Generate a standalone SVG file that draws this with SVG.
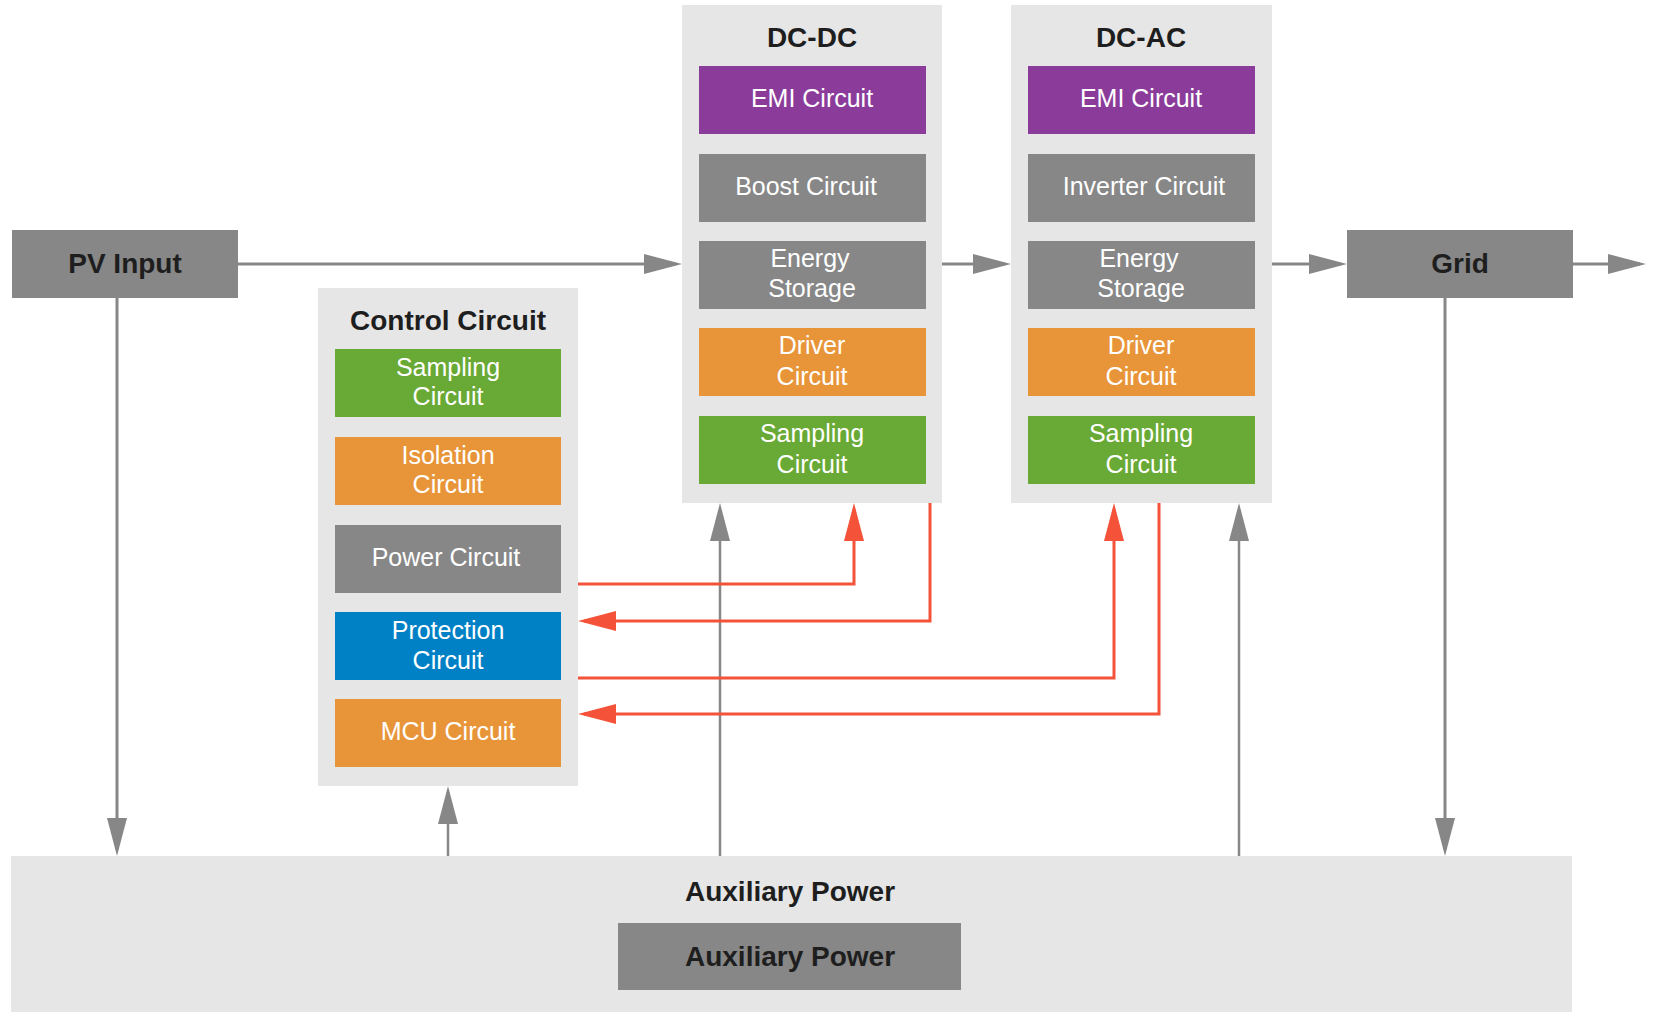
<svg xmlns="http://www.w3.org/2000/svg" width="1654" height="1012" viewBox="0 0 1654 1012">
<defs>
<style>
.cont{fill:#e6e6e6}
.gray{fill:#878787}
.purple{fill:#8b3c9b}
.orange{fill:#e8953a}
.green{fill:#69a935}
.blue{fill:#0080c5}
.t{font-family:"Liberation Sans",Arial,sans-serif;font-size:25px;fill:#ffffff;text-anchor:middle;dominant-baseline:central}
.h{font-family:"Liberation Sans",Arial,sans-serif;font-size:28px;font-weight:bold;fill:#1e1e1e;text-anchor:middle;dominant-baseline:central}
.gl{fill:none;stroke:#878787;stroke-width:3}
.gv{fill:none;stroke:#878787;stroke-width:2.5}
.rl{fill:none;stroke:#f4533a;stroke-width:3}
</style>
<marker id="ag" markerUnits="userSpaceOnUse" markerWidth="38" markerHeight="20" refX="32" refY="10" orient="auto">
<path d="M0,0 L38,10 L0,20 z" fill="#878787"/>
</marker>
<marker id="ar" markerUnits="userSpaceOnUse" markerWidth="38" markerHeight="20" refX="32" refY="10" orient="auto">
<path d="M0,0 L38,10 L0,20 z" fill="#f4533a"/>
</marker>
</defs>
<rect width="1654" height="1012" fill="#ffffff"/>

<g id="aux">
<rect class="cont" x="11" y="856" width="1561" height="156"/>
<text class="h" x="790" y="891">Auxiliary Power</text>
<rect class="gray" x="618" y="923" width="343" height="67"/>
<text class="h" x="790" y="956">Auxiliary Power</text>
</g>

<g id="pv-input">
<rect class="gray" x="12" y="230" width="226" height="68"/>
<text class="h" x="125" y="263">PV Input</text>
</g>

<g id="grid">
<rect class="gray" x="1347" y="230" width="226" height="68"/>
<text class="h" x="1460" y="263">Grid</text>
</g>

<g id="control">
<rect class="cont" x="318" y="288" width="260" height="498"/>
<text class="h" x="448" y="320">Control Circuit</text>
<rect class="green" x="335" y="349" width="226" height="68"/>
<text class="t" x="448" y="367">Sampling</text><text class="t" x="448" y="396">Circuit</text>
<rect class="orange" x="335" y="437" width="226" height="68"/>
<text class="t" x="448" y="455">Isolation</text><text class="t" x="448" y="484">Circuit</text>
<rect class="gray" x="335" y="525" width="226" height="68"/>
<text class="t" x="446" y="557">Power Circuit</text>
<rect class="blue" x="335" y="612" width="226" height="68"/>
<text class="t" x="448" y="630">Protection</text><text class="t" x="448" y="660">Circuit</text>
<rect class="orange" x="335" y="699" width="226" height="68"/>
<text class="t" x="448" y="731">MCU Circuit</text>
</g>

<g id="dc-dc">
<rect class="cont" x="682" y="5" width="260" height="498"/>
<text class="h" x="812" y="37">DC-DC</text>
<rect class="purple" x="699" y="66" width="227" height="68"/>
<text class="t" x="812" y="98">EMI Circuit</text>
<rect class="gray" x="699" y="154" width="227" height="68"/>
<text class="t" x="806" y="186">Boost Circuit</text>
<rect class="gray" x="699" y="241" width="227" height="68"/>
<text class="t" x="810" y="258">Energy</text><text class="t" x="812" y="288">Storage</text>
<rect class="orange" x="699" y="328" width="227" height="68"/>
<text class="t" x="812" y="345">Driver</text><text class="t" x="812" y="376">Circuit</text>
<rect class="green" x="699" y="416" width="227" height="68"/>
<text class="t" x="812" y="433">Sampling</text><text class="t" x="812" y="464">Circuit</text>
</g>

<g id="dc-ac">
<rect class="cont" x="1011" y="5" width="261" height="498"/>
<text class="h" x="1141" y="37">DC-AC</text>
<rect class="purple" x="1028" y="66" width="227" height="68"/>
<text class="t" x="1141" y="98">EMI Circuit</text>
<rect class="gray" x="1028" y="154" width="227" height="68"/>
<text class="t" x="1144" y="186">Inverter Circuit</text>
<rect class="gray" x="1028" y="241" width="227" height="68"/>
<text class="t" x="1139" y="258">Energy</text><text class="t" x="1141" y="288">Storage</text>
<rect class="orange" x="1028" y="328" width="227" height="68"/>
<text class="t" x="1141" y="345">Driver</text><text class="t" x="1141" y="376">Circuit</text>
<rect class="green" x="1028" y="416" width="227" height="68"/>
<text class="t" x="1141" y="433">Sampling</text><text class="t" x="1141" y="464">Circuit</text>
</g>

<g id="connectors">
<path class="gl" d="M238,264 H676" marker-end="url(#ag)"/>
<path class="gl" d="M942,264 H1005" marker-end="url(#ag)"/>
<path class="gl" d="M1272,264 H1341" marker-end="url(#ag)"/>
<path class="gl" d="M1573,264 H1640" marker-end="url(#ag)"/>
<path class="gl" d="M117,298 V850" marker-end="url(#ag)"/>
<path class="gl" d="M1445,298 V850" marker-end="url(#ag)"/>
<path class="gv" d="M448,856 V792" marker-end="url(#ag)"/>
<path class="gv" d="M720,856 V509" marker-end="url(#ag)"/>
<path class="gv" d="M1239,856 V509" marker-end="url(#ag)"/>
<path class="rl" d="M578,584 H854 V509" marker-end="url(#ar)"/>
<path class="rl" d="M930,503 V621 H584" marker-end="url(#ar)"/>
<path class="rl" d="M578,678 H1114 V509" marker-end="url(#ar)"/>
<path class="rl" d="M1159,503 V714 H584" marker-end="url(#ar)"/>
</g>
</svg>
